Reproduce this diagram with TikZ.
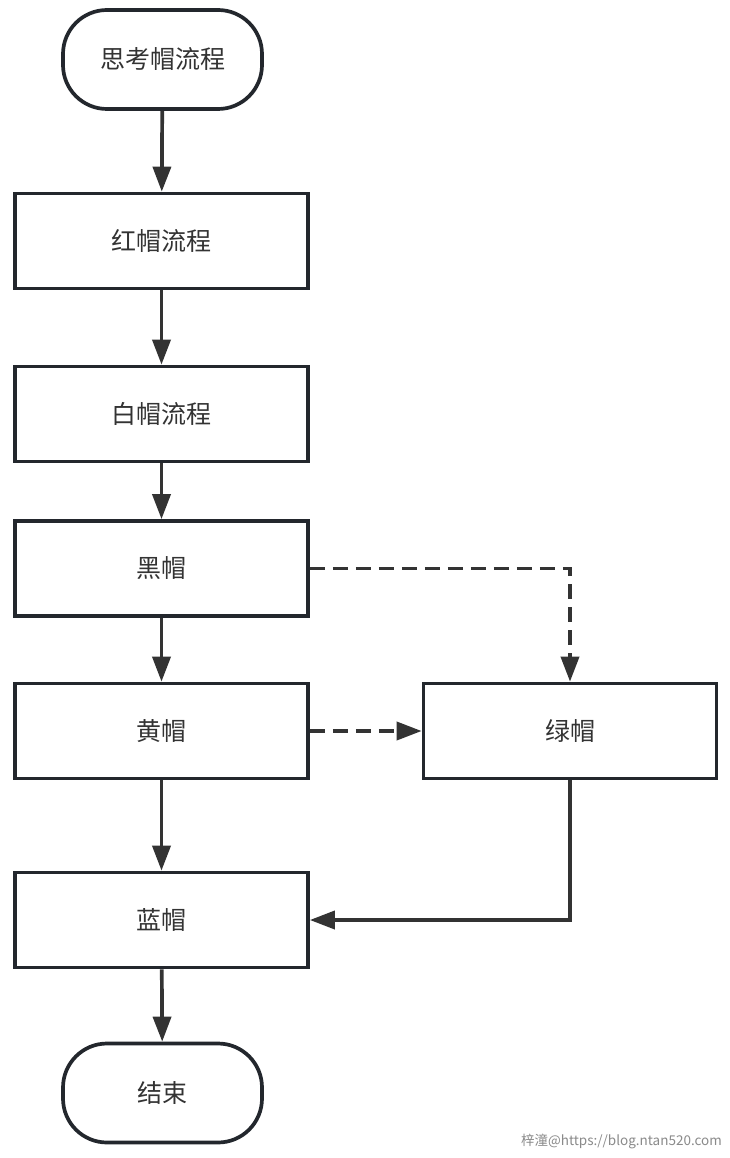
\documentclass[tikz,border=0pt]{standalone}
\usepackage{fontspec}
\newfontfamily\cjk{Noto Sans CJK SC}
\usetikzlibrary{arrows.meta}
\definecolor{boxline}{HTML}{23272D}
\definecolor{arrowc}{HTML}{333333}
\definecolor{txt}{HTML}{333333}
\definecolor{wm}{HTML}{8A8A8A}
\begin{document}
\begin{tikzpicture}[x=1pt,y=-1pt,
  base/.style={draw=boxline, line width=3.7pt, fill=white, text=txt,
    font=\cjk\fontsize{25}{30}\selectfont, inner sep=0pt},
  procbox/.style={base, minimum width=293pt, minimum height=95pt},
  termbox/.style={base, rounded corners=44pt, minimum width=199pt, minimum height=99pt},
  flow/.style={draw=arrowc, line width=3.7pt, -{Triangle[length=25pt,width=18pt]}},
  dflow/.style={flow, dash pattern=on 15pt off 8pt}
]
\useasboundingbox (0,0) rectangle (730,1158);
\fill[white] (0,0) rectangle (730,1158);

\node[termbox] (start) at (162.5,59.5) {思考帽流程};
\node[procbox] (red) at (161.5,241) {红帽流程};
\node[procbox] (white) at (161.5,414) {白帽流程};
\node[procbox] (black) at (161.5,568.5) {黑帽};
\node[procbox] (yellow) at (161.5,731) {黄帽};
\node[procbox] (green) at (570,731) {绿帽};
\node[procbox] (blue) at (161.5,920) {蓝帽};
\node[termbox] (end) at (162.5,1093) {结束};

\coordinate (c1) at (570,568.5);
\coordinate (c2) at (570,920);

\draw[flow] (start) -- (red);
\draw[flow] (red) -- (white);
\draw[flow] (white) -- (black);
\draw[flow] (black) -- (yellow);
\draw[flow] (yellow) -- (blue);
\draw[flow] (blue) -- (end);
\draw[dflow] (black.east) -- (c1) -- (green.north);
\draw[dflow] (yellow.east) -- (green.west);
\draw[flow] (green.south) -- (c2) -- (blue.east);

\node[anchor=east, text=wm, font=\cjk\fontsize{13.5}{16}\selectfont, inner sep=0pt] (wmark) at (722,1141) {梓潼@https://blog.ntan520.com};
\end{tikzpicture}
\end{document}
